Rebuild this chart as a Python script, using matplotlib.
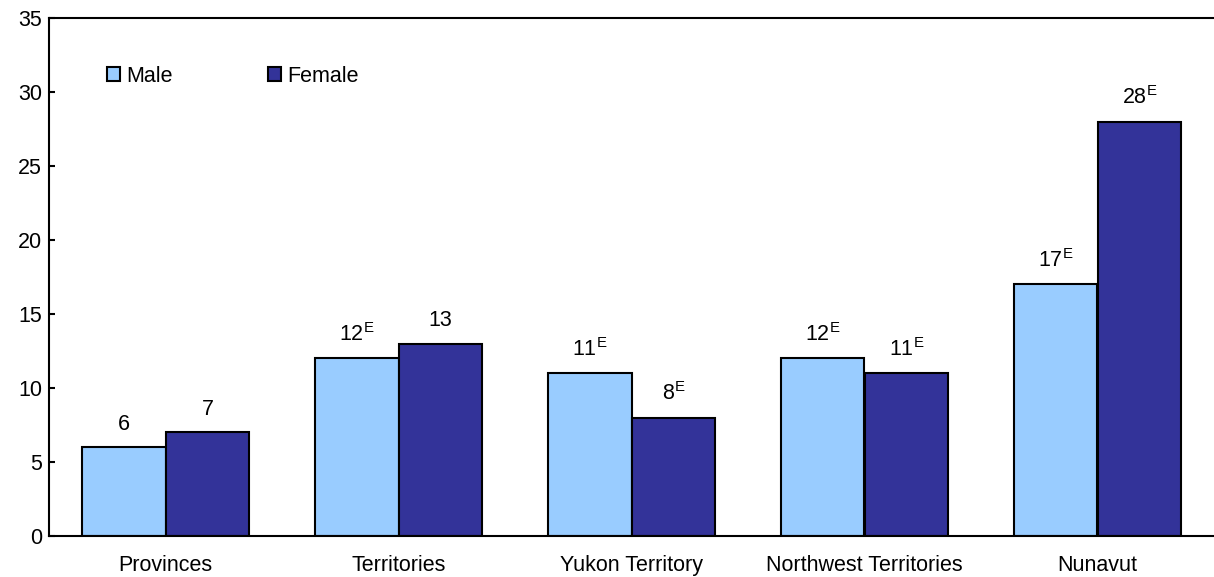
import matplotlib
matplotlib.use("Agg")
import matplotlib.pyplot as plt
from matplotlib.patches import Patch
import numpy as np

categories = ["Provinces", "Territories", "Yukon Territory", "Northwest Territories", "Nunavut"]
male = [6, 12, 11, 12, 17]
female = [7, 13, 8, 11, 28]
male_flags = ["", "E", "E", "E", "E"]
female_flags = ["", "", "E", "E", "E"]
yticks = [0, 5, 10, 15, 20, 25, 30, 35]

plt.rcParams['font.family'] = ['Liberation Sans', 'DejaVu Sans']
plt.rcParams['mathtext.fontset'] = 'custom'
plt.rcParams['mathtext.rm'] = 'Liberation Sans'
plt.rcParams['mathtext.it'] = 'Liberation Sans'
plt.rcParams['mathtext.bf'] = 'Liberation Sans'

FS = 15.5
light = "#99CCFF"
dark = "#333399"

fig = plt.figure(figsize=(12.14, 5.77), dpi=100)
ax = fig.add_axes([49/1214, 1 - 536/577, 1 - 49/1214, (536 - 18)/577])

x = np.arange(len(categories))
w = 0.36
b1 = ax.bar(x - w/2, male, w, color=light, edgecolor="black", linewidth=1.5)
b2 = ax.bar(x + w/2, female, w, color=dark, edgecolor="black", linewidth=1.5)

def lab(v, f):
    if f:
        return r"$\mathrm{%d}^{\mathrm{%s}}$" % (v, f)
    return str(v)

ax.bar_label(b1, labels=[lab(v, f) for v, f in zip(male, male_flags)], padding=9, fontsize=FS)
ax.bar_label(b2, labels=[lab(v, f) for v, f in zip(female, female_flags)], padding=9, fontsize=FS)

ax.set_xlim(-0.5, len(categories) - 0.5)
ax.set_ylim(0, 35)
ax.set_yticks(yticks)
ax.set_yticklabels([str(t) for t in yticks], fontsize=FS)
ax.set_xticks(x)
ax.set_xticklabels(categories, fontsize=FS)
ax.tick_params(axis='y', direction='in', length=4.5, width=1.5, pad=5)
ax.tick_params(axis='x', length=0, pad=14)

for s in ["left", "top", "bottom"]:
    ax.spines[s].set_linewidth(1.5)
ax.spines["right"].set_visible(False)

handles = [Patch(facecolor=light, edgecolor="black", linewidth=1.5, label="Male"),
           Patch(facecolor=dark, edgecolor="black", linewidth=1.5, label="Female")]
ax.legend(handles=handles, loc="center left", bbox_to_anchor=(58/1165, (536 - 76)/518),
          ncol=2, frameon=False, fontsize=FS, handlelength=0.6, handleheight=0.6,
          handletextpad=0.3, columnspacing=4.4, borderpad=0, borderaxespad=0)

fig.savefig("out.png", dpi=100)
